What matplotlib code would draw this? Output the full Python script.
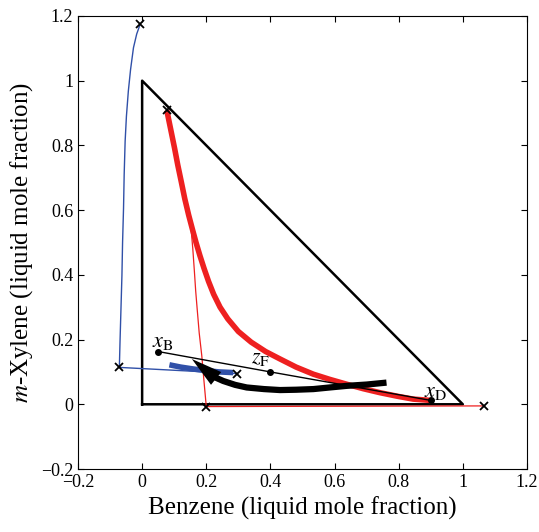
import matplotlib

matplotlib.use("Agg")
import matplotlib.pyplot as plt

# composition triangle
tri_x = [0, 1, 0, 0]
tri_y = [0, 0, 1, 0]

# thick red curve
red_x = [0.077, 0.089, 0.101, 0.111, 0.122, 0.133, 0.145, 0.157, 0.168, 0.180, 0.193, 0.207,
         0.223, 0.243, 0.267, 0.300, 0.340, 0.385, 0.430, 0.480, 0.534, 0.585, 0.638, 0.690,
         0.741, 0.795, 0.845, 0.900]
red_y = [0.908, 0.850, 0.792, 0.740, 0.688, 0.635, 0.585, 0.540, 0.500, 0.460, 0.420, 0.380,
         0.340, 0.300, 0.264, 0.225, 0.192, 0.163, 0.140, 0.115, 0.093, 0.077, 0.062, 0.048,
         0.036, 0.025, 0.016, 0.012]

# thin red curve and its tail
red_thin_x = [0.077, 0.101, 0.122, 0.145, 0.152, 0.158, 0.163, 0.167, 0.172, 0.178, 0.186, 0.193, 0.200, 1.065]
red_thin_y = [0.908, 0.792, 0.688, 0.585, 0.550, 0.480, 0.410, 0.350, 0.290, 0.220, 0.150, 0.070, -0.007, -0.005]

# thin blue curve
blue_x = [-0.006, -0.017, -0.027, -0.036, -0.043, -0.049, -0.053, -0.056, -0.058, -0.061,
          -0.063, -0.066, -0.069, -0.071, 0.296]
blue_y = [1.175, 1.144, 1.102, 1.035, 0.968, 0.890, 0.813, 0.710, 0.606, 0.500,
          0.398, 0.295, 0.192, 0.114, 0.095]

# thick blue segment
blue_thick_x = [0.085, 0.120, 0.160, 0.200, 0.240, 0.284]
blue_thick_y = [0.122, 0.115, 0.109, 0.104, 0.100, 0.098]

# crosses
cross_x = [-0.006, 0.077, -0.071, 0.296, 0.200, 1.065]
cross_y = [1.175, 0.908, 0.114, 0.095, -0.007, -0.005]

# arrow body (tail -> head base) and head tip
arrow_x = [0.762, 0.700, 0.638, 0.585, 0.534, 0.480, 0.430, 0.380, 0.326, 0.290, 0.253, 0.228, 0.205]
arrow_y = [0.067, 0.061, 0.057, 0.052, 0.047, 0.045, 0.044, 0.047, 0.052, 0.060, 0.072, 0.083, 0.097]
tip_x, tip_y = 0.155, 0.140
head_base_x, head_base_y = 0.228, 0.082

# mass balance line
pts_x = [0.05, 0.4, 0.9]
pts_y = [0.163, 0.1, 0.012]
pt_labels = [r"$x_{\rm B}$", r"$z_{\rm F}$", r"$x_{\rm D}$"]
lab_x = [0.066, 0.37, 0.915]
lab_y = [0.19, 0.143, 0.036]

ticks = [-0.2, 0, 0.2, 0.4, 0.6, 0.8, 1, 1.2]
tick_labels = ["\u22120.2", "0", "0.2", "0.4", "0.6", "0.8", "1", "1.2"]

plt.rcParams["font.family"] = ["Liberation Serif", "DejaVu Serif"]
plt.rcParams["mathtext.fontset"] = "stix"

fig = plt.figure(figsize=(5.39, 5.32), dpi=100)
ax = fig.add_axes([0.1447, 0.1184, 0.833, 0.8516])

red = "#ee2020"
blue = "#3050a8"

ax.plot(tri_x, tri_y, color="black", lw=1.8)
ax.plot(blue_x, blue_y, color=blue, lw=1.0)
ax.plot(red_thin_x, red_thin_y, color=red, lw=0.9)
ax.plot(red_x, red_y, color=red, lw=4.0, solid_capstyle="butt", solid_joinstyle="round")
ax.plot(pts_x, pts_y, color="black", lw=1.0, marker="o", ms=4)
ax.plot(blue_thick_x, blue_thick_y, color=blue, lw=4.0, solid_capstyle="butt")

ax.plot(arrow_x, arrow_y, color="black", lw=4.5, solid_capstyle="butt", solid_joinstyle="round")
ax.annotate(
    "",
    xy=(tip_x, tip_y),
    xytext=(head_base_x, head_base_y),
    arrowprops=dict(
        arrowstyle="-|>,head_length=1.6,head_width=0.42",
        mutation_scale=14,
        color="black",
        lw=0,
        shrinkA=0,
        shrinkB=0,
    ),
)

ax.plot(cross_x, cross_y, linestyle="none", marker="x", color="black", ms=6, mew=1.3)

for lx, ly, t in zip(lab_x, lab_y, pt_labels):
    ax.text(lx, ly, t, fontsize=16, ha="center", va="center")

ax.set_xlim(-0.2, 1.2)
ax.set_ylim(-0.2, 1.2)
ax.set_xticks(ticks)
ax.set_xticklabels(tick_labels)
ax.set_yticks(ticks)
ax.set_yticklabels(tick_labels)
ax.tick_params(direction="in", top=True, right=True, length=4, labelsize=13)
ax.set_xlabel("Benzene (liquid mole fraction)", fontsize=18)
ax.set_ylabel(r"$m$-Xylene (liquid mole fraction)", fontsize=18)

fig.savefig("out.png", dpi=100)
